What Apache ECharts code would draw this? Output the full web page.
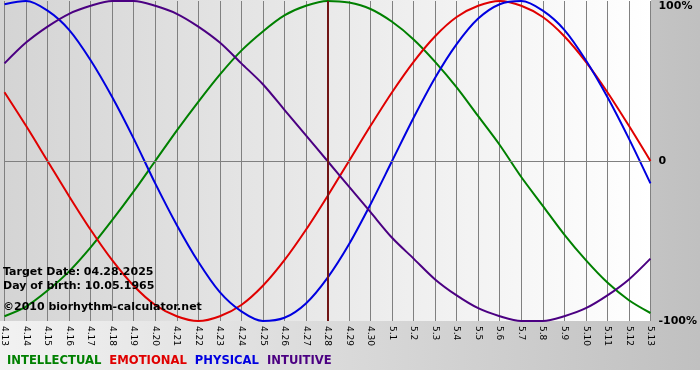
<!DOCTYPE html>
<html><head><meta charset="utf-8">
<script src="https://cdn.jsdelivr.net/npm/echarts@6/dist/echarts.min.js"></script>
<style>html,body{margin:0;padding:0;background:#fff}#c{width:700px;height:380px}</style>
</head><body><div id="c"></div>
<script>
var days = ['4.13','4.14','4.15','4.16','4.17','4.18','4.19','4.20','4.21','4.22','4.23','4.24','4.25','4.26','4.27','4.28','4.29','4.30','5.1','5.2','5.3','5.4','5.5','5.6','5.7','5.8','5.9','5.10','5.11','5.12','5.13'];
var intellectual = [-0.97,-0.91,-0.81,-0.69,-0.54,-0.37,-0.19,0,0.19,0.37,0.54,0.69,0.81,0.91,0.97,1.00,0.99,0.95,0.87,0.76,0.62,0.46,0.28,0.10,-0.10,-0.28,-0.46,-0.62,-0.76,-0.87,-0.95];
var emotional = [0.43,0.22,0,-0.22,-0.43,-0.62,-0.78,-0.90,-0.97,-1.00,-0.97,-0.90,-0.78,-0.62,-0.43,-0.22,0,0.22,0.43,0.62,0.78,0.90,0.97,1.00,0.97,0.90,0.78,0.62,0.43,0.22,0];
var physical = [0.98,1.00,0.94,0.82,0.63,0.40,0.14,-0.14,-0.40,-0.63,-0.82,-0.94,-1.00,-0.98,-0.89,-0.73,-0.52,-0.27,0,0.27,0.52,0.73,0.89,0.98,1.00,0.94,0.82,0.63,0.40,0.14,-0.14];
var intuitive = [0.61,0.74,0.84,0.92,0.97,1.00,1.00,0.97,0.92,0.84,0.74,0.61,0.48,0.32,0.16,0,-0.16,-0.32,-0.48,-0.61,-0.74,-0.84,-0.92,-0.97,-1.00,-1.00,-0.97,-0.92,-0.84,-0.74,-0.61];
var targetDay = '4.28';
var yTicks = {'1':'100%','0':'0','-1':'-100%'};
var infoLines = ['Target Date: 04.28.2025','Day of birth: 10.05.1965','\u00a92010 biorhythm-calculator.net'];
var names = ['INTELLECTUAL','EMOTIONAL','PHYSICAL','INTUITIVE'];
var colors = ['#008000','#e00000','#0000e0','#4b0082'];

var chart = echarts.init(document.getElementById('c'), null, {renderer:'canvas'});
var font = 'DejaVu Sans';
function mk(name, data, color, extra){
  var s = {name:name,type:'line',data:data,smooth:0.3,symbol:'none',
    lineStyle:{color:color,width:2},itemStyle:{color:color},z:3};
  if(extra) for(var k in extra) s[k]=extra[k];
  return s;
}
var option = {
  backgroundColor:'#ffffff',
  animation:false,
  grid:{left:1,right:49,top:1,bottom:59},
  graphic:[
    {type:'rect',z:-20,shape:{x:0,y:0,width:700,height:370},
      style:{fill:new echarts.graphic.LinearGradient(0,0,1,0,[{offset:0,color:'#f2f2f2'},{offset:1,color:'#c0c0c0'}])}},
    {type:'rect',z:-19,shape:{x:0,y:0,width:651,height:321},
      style:{fill:new echarts.graphic.LinearGradient(0,0,1,0,[{offset:0,color:'#d4d4d4'},{offset:1,color:'#ffffff'}])}},
    {type:'text',z:10,left:3,top:267,style:{text:infoLines[0],font:'bold 11px "'+font+'"',fill:'#000'}},
    {type:'text',z:10,left:3,top:281,style:{text:infoLines[1],font:'bold 11px "'+font+'"',fill:'#000'}},
    {type:'text',z:10,left:3,top:302,style:{text:infoLines[2],font:'bold 11px "'+font+'"',fill:'#000'}}
  ],
  legend:{
    left:2,top:355,icon:'none',itemWidth:0,itemHeight:10,itemGap:3,padding:0,
    textStyle:{fontFamily:font,fontWeight:'bold',fontSize:11.6},
    selectedMode:false,
    data:names.map(function(n,i){return {name:n,textStyle:{color:colors[i]}};})
  },
  xAxis:{
    type:'category',data:days,boundaryGap:false,
    axisLine:{lineStyle:{color:'#808080',width:1}},
    axisTick:{show:true,length:4,lineStyle:{color:'#808080'}},
    splitLine:{show:true,lineStyle:{color:'#808080',width:1}},
    axisLabel:{interval:0,rotate:-90,margin:5,fontSize:9,fontFamily:font,color:'#000',hideOverlap:false,showMinLabel:true,showMaxLabel:true}
  },
  yAxis:{
    type:'value',position:'right',min:-1,max:1,interval:1,
    axisLine:{show:false},axisTick:{show:false},splitLine:{show:false},
    axisLabel:{margin:8,fontSize:11,fontWeight:'bold',fontFamily:font,color:'#000',
      verticalAlignMaxLabel:'top',
      formatter:function(v){return yTicks[String(v)];}}
  },
  series:[
    mk(names[0],intellectual,colors[0],{markLine:{silent:true,symbol:'none',label:{show:false},
      data:[{yAxis:0,lineStyle:{color:'#808080',width:1,type:'solid'}},
            {xAxis:targetDay,lineStyle:{color:'#701515',width:2,type:'solid'}}]}}),
    mk(names[1],emotional,colors[1]),
    mk(names[2],physical,colors[2]),
    mk(names[3],intuitive,colors[3])
  ]
};
chart.setOption(option);
</script></body></html>
